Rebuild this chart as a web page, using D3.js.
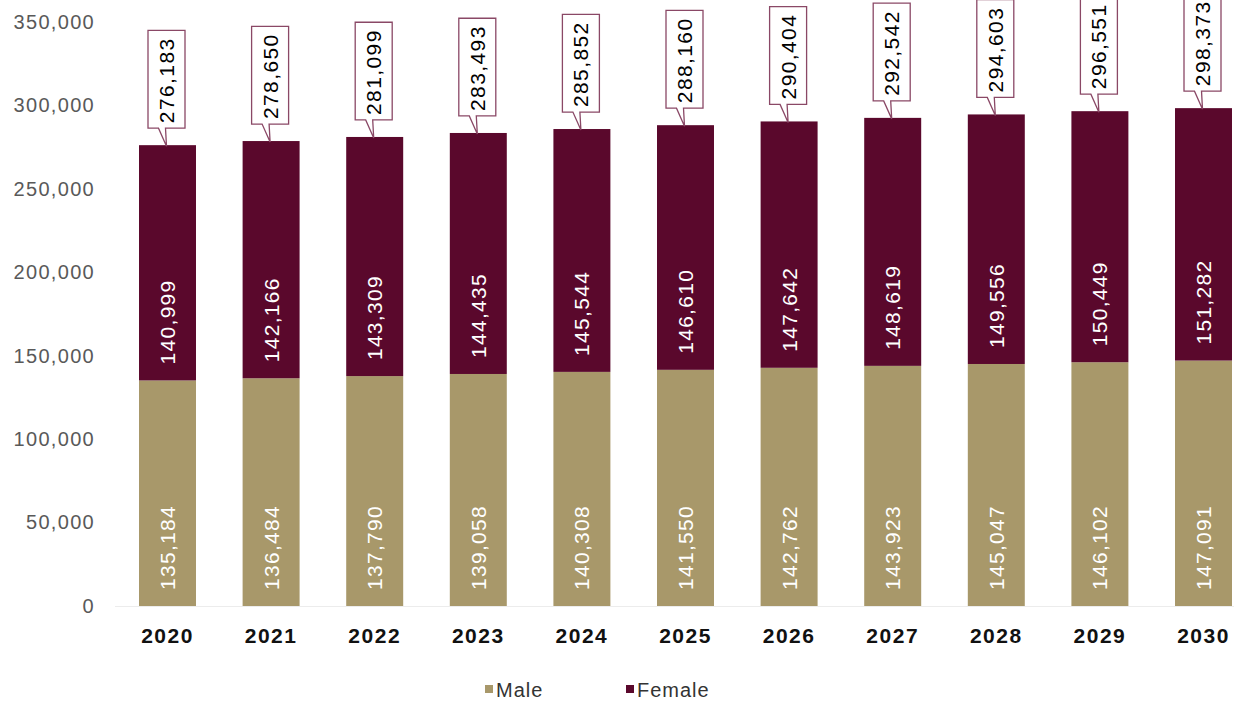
<!DOCTYPE html>
<html lang="en">
<head>
<meta charset="utf-8">
<script src="https://d3js.org/d3.v7.min.js"></script>
<style>
  body { margin: 0; background: #fff; }
  text { font-family: "Liberation Sans", Arial, sans-serif; }
</style>
</head>
<body>
<script>
  var years = ["2020", "2021", "2022", "2023", "2024", "2025", "2026", "2027", "2028", "2029", "2030"];
  var male = [135184, 136484, 137790, 139058, 140308, 141550, 142762, 143923, 145047, 146102, 147091];
  var female = [140999, 142166, 143309, 144435, 145544, 146610, 147642, 148619, 149556, 150449, 151282];
  var totals = [276183, 278650, 281099, 283493, 285852, 288160, 290404, 292542, 294603, 296551, 298373];
  var yTicks = [0, 50000, 100000, 150000, 200000, 250000, 300000, 350000];

  var maleColor = "#a8986a",
      femaleColor = "#5a082c";

  var width = 1234, height = 701;

  var svg = d3.select("body").append("svg")
    .attr("width", width)
    .attr("height", height);

  var x = d3.scaleBand()
    .domain(years)
    .range([115.7, 1255.3])
    .paddingInner(0.45)
    .paddingOuter(0.225);

  var y = d3.scaleLinear()
    .domain([0, 350000])
    .range([606, 22]);

  var fmt = d3.format(",");

  // baseline
  svg.append("line")
    .attr("x1", 115).attr("x2", width)
    .attr("y1", y(0) + 0.5).attr("y2", y(0) + 0.5)
    .attr("stroke", "#ececec");

  // y axis
  var yAxis = d3.axisLeft(y)
    .tickValues(yTicks)
    .tickSize(0)
    .tickPadding(0)
    .tickFormat(fmt);

  var yG = svg.append("g")
    .attr("transform", "translate(95,0)")
    .call(yAxis);
  yG.select(".domain").remove();
  yG.selectAll("text")
    .attr("fill", "#595959")
    .style("font-size", "20px")
    .style("letter-spacing", "1.3px")
    .style("font-family", "'Liberation Sans', Arial, sans-serif");

  // x axis
  var xAxis = d3.axisBottom(x).tickSize(0).tickPadding(0);
  var xG = svg.append("g")
    .attr("transform", "translate(0,627)")
    .call(xAxis);
  xG.select(".domain").remove();
  xG.selectAll("text")
    .attr("fill", "#111")
    .attr("dy", "0.75em")
    .style("font-size", "21px")
    .style("font-weight", "bold")
    .style("letter-spacing", "1.5px")
    .style("font-family", "'Liberation Sans', Arial, sans-serif");

  var data = years.map(function(d, i) {
    return { year: d, male: male[i], female: female[i], total: totals[i] };
  });

  var bars = svg.append("g").selectAll("g")
    .data(data)
    .enter().append("g");

  bars.append("rect")
    .attr("x", d => x(d.year))
    .attr("width", x.bandwidth())
    .attr("y", d => y(d.male))
    .attr("height", d => y(0) - y(d.male))
    .attr("fill", maleColor);

  bars.append("rect")
    .attr("x", d => x(d.year))
    .attr("width", x.bandwidth())
    .attr("y", d => y(d.male + d.female))
    .attr("height", d => y(d.male) - y(d.male + d.female))
    .attr("fill", femaleColor);

  // segment labels, anchored near the base of each segment
  function segLabel(val, base) {
    bars.append("text")
      .attr("transform", d => "translate(" + (x(d.year) + x.bandwidth() / 2) + "," + (y(base(d)) - 16) + ") rotate(-90)")
      .attr("dy", "0.36em")
      .attr("fill", "#fff")
      .style("font-size", "21px")
      .style("letter-spacing", "1.3px")
      .text(d => fmt(val(d)));
  }
  segLabel(d => d.male, d => 0);
  segLabel(d => d.female, d => d.male);

  // total callouts
  var callouts = bars.append("g");
  callouts.each(function(d) {
    var g = d3.select(this);
    var cx = x(d.year) + x.bandwidth() / 2;
    var top = y(d.total);
    var t = g.append("text")
      .attr("fill", "#000")
      .style("font-size", "21px")
      .style("letter-spacing", "1.4px")
      .text(fmt(d.total));
    var len = t.node().getComputedTextLength();
    var boxW = 37,
        boxH = len + 12,
        bottom = top - 17,
        boxTop = bottom - boxH,
        left = cx - boxW / 2 - 1,
        right = left + boxW;
    g.insert("path", "text")
      .attr("d", "M" + left + "," + boxTop + "H" + right + "V" + bottom +
        "H" + (cx - 2) + "L" + (cx - 1) + "," + (top + 1) +
        "L" + (cx - 9) + "," + bottom + "H" + left + "Z")
      .attr("fill", "#fff")
      .attr("stroke", "#8a4866")
      .attr("stroke-width", 1.3);
    t.attr("transform", "translate(" + (cx - 1) + "," + (bottom - 5) + ") rotate(-90)")
      .attr("dy", "0.36em");
  });

  // legend
  var legendItems = [{ name: "Male", color: maleColor, x: 485 }, { name: "Female", color: femaleColor, x: 626 }];
  var legend = svg.append("g").selectAll("g")
    .data(legendItems)
    .enter().append("g")
    .attr("transform", d => "translate(" + d.x + ",690)");
  legend.append("rect")
    .attr("y", -5)
    .attr("width", 8).attr("height", 8)
    .attr("fill", d => d.color);
  legend.append("text")
    .attr("x", 11)
    .attr("dy", "0.36em")
    .attr("fill", "#333")
    .style("font-size", "20px")
    .style("letter-spacing", "1px")
    .text(d => d.name);
</script>
</body>
</html>
